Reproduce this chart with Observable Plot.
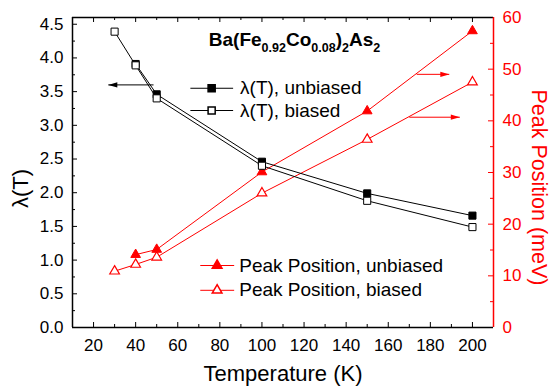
<!DOCTYPE html>
<html><head><meta charset="utf-8">
<script src="https://cdn.jsdelivr.net/npm/d3@7"></script>
<script src="https://cdn.jsdelivr.net/npm/@observablehq/plot@0.6"></script>
<style>body{margin:0;background:#fff} svg{font-family:"Liberation Sans",Arial,sans-serif}</style>
</head><body><div id="chart"></div>
<script>
// ---- data ----
const temperature    = [30, 40, 50, 100, 150, 200];
const lambdaUnbiased = [null, 3.91, 3.46, 2.46, 1.99, 1.66];
const lambdaBiased   = [4.39, 3.89, 3.40, 2.40, 1.88, 1.49];
const peakUnbiased   = [null, 14.1, 15.1, 30.1, 41.9, 57.4];
const peakBiased     = [10.9, 12.2, 13.6, 26.0, 36.4, 47.5];

const xTicks      = [20, 40, 60, 80, 100, 120, 140, 160, 180, 200];
const xMinorTicks = [30, 50, 70, 90, 110, 130, 150, 170, 190];
const lambdaTicks = [0, 0.5, 1, 1.5, 2, 2.5, 3, 3.5, 4, 4.5];
const lambdaMinor = [0.25, 0.75, 1.25, 1.75, 2.25, 2.75, 3.25, 3.75, 4.25];
const peakTicks   = [0, 10, 20, 30, 40, 50, 60];
const peakMinor   = [5, 15, 25, 35, 45, 55];

const lambdaLegend = ["λ(T), unbiased", "λ(T), biased"];
const peakLegend   = ["Peak Position, unbiased", "Peak Position, biased"];

// ---- layout ----
const W = 551, H = 390, mL = 72, mR = 58, mT = 17, mB = 63;
const innerW = W - mL - mR, innerH = H - mT - mB;
const lambdaMax = 4.6, peakMax = 60, k = peakMax / lambdaMax;
const RED = "#ff0000";

const rows = temperature.map((t, i) => ({
  t,
  lu: lambdaUnbiased[i],
  lb: lambdaBiased[i],
  pu: peakUnbiased[i] == null ? null : peakUnbiased[i] / k,
  pb: peakBiased[i] == null ? null : peakBiased[i] / k
}));

// legend placement (data units)
const lamLeg = lambdaLegend.map((label, i) => ({label, y: [3.55, 3.22][i], filled: i === 0}));
const peakLeg = peakLegend.map((label, i) => ({label, y: [12.0, 7.2][i] / k, filled: i === 0}));
const arrows = [
  {x1: 48.5, y1: 3.6, x2: 27, y2: 3.6, color: "black"},
  {x1: 173.5, y1: 49.0 / k, x2: 189, y2: 49.0 / k, color: RED},
  {x1: 170, y1: 40.7 / k, x2: 194, y2: 40.7 / k, color: RED}
];

const plot = Plot.plot({
  width: W, height: H,
  marginLeft: mL, marginRight: mR, marginTop: mT, marginBottom: mB,
  style: {fontFamily: '"Liberation Sans", Arial, sans-serif', fontSize: "17px", background: "white"},
  x: {domain: [10, 210], axis: null},
  y: {domain: [0, lambdaMax], axis: null},
  marks: [
    // ticks (inward)
    Plot.tickX(xTicks, {x: d => d, insetTop: innerH - 5, stroke: "black"}),
    Plot.tickX(xMinorTicks, {x: d => d, insetTop: innerH - 3, stroke: "black"}),
    Plot.tickX(xTicks, {x: d => d, insetBottom: innerH - 5, stroke: "black"}),
    Plot.tickX(xMinorTicks, {x: d => d, insetBottom: innerH - 3, stroke: "black"}),
    Plot.tickY(lambdaTicks, {y: d => d, insetRight: innerW - 5, stroke: "black"}),
    Plot.tickY(lambdaMinor, {y: d => d, insetRight: innerW - 3, stroke: "black"}),
    Plot.tickY(peakTicks.map(v => v / k), {y: d => d, insetLeft: innerW - 5, stroke: RED}),
    Plot.tickY(peakMinor.map(v => v / k), {y: d => d, insetLeft: innerW - 3, stroke: RED}),
    // frame
    Plot.ruleY([0], {stroke: "black", strokeWidth: 1.5}),
    Plot.ruleY([lambdaMax], {stroke: "black", strokeWidth: 1.5}),
    Plot.ruleX([10], {stroke: "black", strokeWidth: 1.5}),
    Plot.ruleX([210], {stroke: RED, strokeWidth: 1.5}),
    // axes labels
    Plot.axisX({ticks: xTicks, tickSize: 0, tickPadding: 11, fontSize: 17, label: null, color: "black"}),
    Plot.axisY({anchor: "left", ticks: lambdaTicks, tickSize: 0, tickPadding: 9, fontSize: 17, label: null, tickFormat: d => d.toFixed(1), color: "black"}),
    Plot.axisY({anchor: "right", ticks: peakTicks.map(v => v / k), tickSize: 0, tickPadding: 9, fontSize: 17, label: null, tickFormat: d => String(Math.round(d * k)), color: RED}),
    Plot.text(["Temperature (K)"], {text: d => d, frameAnchor: "bottom", textAnchor: "middle", lineAnchor: "middle", dy: 46, fontSize: 22, fill: "black"}),
    Plot.text(["λ(T)"], {text: d => d, frameAnchor: "left", textAnchor: "middle", lineAnchor: "middle", dx: -52, dy: 16, rotate: -90, fontSize: 22, fill: "black"}),
    Plot.text(["Peak Position (meV)"], {text: d => d, frameAnchor: "right", textAnchor: "middle", lineAnchor: "middle", dx: 45, dy: 15, rotate: 90, fontSize: 21.5, fill: RED}),
    // peak series (right axis)
    Plot.line(rows, {x: "t", y: "pu", stroke: RED, strokeWidth: 1}),
    Plot.line(rows, {x: "t", y: "pb", stroke: RED, strokeWidth: 1}),
    Plot.dot(rows, {x: "t", y: "pu", symbol: "triangle", r: 3.6, fill: RED, stroke: RED, strokeWidth: 1}),
    Plot.dot(rows, {x: "t", y: "pb", symbol: "triangle", r: 3.6, fill: "white", stroke: RED, strokeWidth: 1.2}),
    // lambda series (left axis)
    Plot.line(rows, {x: "t", y: "lu", stroke: "black", strokeWidth: 1}),
    Plot.line(rows, {x: "t", y: "lb", stroke: "black", strokeWidth: 1}),
    Plot.dot(rows, {x: "t", y: "lu", symbol: "square", r: 4, fill: "black", stroke: "black", strokeWidth: 1}),
    Plot.dot(rows, {x: "t", y: "lb", symbol: "square", r: 4, fill: "white", stroke: "black", strokeWidth: 1}),
    // arrows
    Plot.link(arrows, {x1: "x1", y1: "y1", x2: "x2", y2: "y2", stroke: "color", strokeWidth: 1, markerEnd: "arrow"}),
    // lambda legend
    Plot.link(lamLeg, {x1: 66, x2: 86.3, y1: "y", y2: "y", stroke: "black", strokeWidth: 1}),
    Plot.dot(lamLeg, {x: 76.1, y: "y", symbol: "square", r: 4, fill: d => d.filled ? "black" : "white", stroke: "black"}),
    Plot.text(lamLeg, {x: 89.6, y: "y", text: "label", textAnchor: "start", fontSize: 19, fill: "black"}),
    // peak legend
    Plot.link(peakLeg, {x1: 70.7, x2: 86.8, y1: "y", y2: "y", stroke: RED, strokeWidth: 1}),
    Plot.dot(peakLeg, {x: 78.7, y: "y", symbol: "triangle", r: 3.6, fill: d => d.filled ? RED : "white", stroke: RED}),
    Plot.text(peakLeg, {x: 89.2, y: "y", text: "label", textAnchor: "start", fontSize: 19, fill: "black"})
  ]
});

document.getElementById("chart").appendChild(plot);
const svg = d3.select(plot);

// filled arrowheads: restyle Plot's markers
svg.selectAll("marker").each(function () {
  const m = d3.select(this);
  const c = m.attr("stroke") || m.select("path").attr("stroke") || "black";
  m.attr("viewBox", "-10 -5 10 10").attr("refX", 0).attr("refY", 0)
   .attr("markerWidth", 10).attr("markerHeight", 10)
   .attr("markerUnits", "userSpaceOnUse").attr("orient", "auto")
   .attr("fill", c).attr("stroke", "none");
  m.selectAll("path").attr("d", "M0,0L-9,-2.6L-9,2.6Z").attr("fill", c).attr("stroke", "none");
});

// title with subscripts
const xs = plot.scale("x"), ys = plot.scale("y");
const title = svg.append("text")
  .attr("x", xs.apply(75)).attr("y", ys.apply(4.17))
  .attr("text-anchor", "start")
  .attr("font-weight", "bold").attr("font-size", 19).attr("fill", "black");
const parts = [["Ba(Fe", 0], ["0.92", 1], ["Co", 0], ["0.08", 1], [")", 0], ["2", 1], ["As", 0], ["2", 1]];
let cur = 0;
parts.forEach(([s, sub]) => {
  const target = sub ? 6 : 0;
  title.append("tspan").attr("dy", target - cur).attr("font-size", sub ? 12.5 : 19).text(s);
  cur = target;
});
</script>
</body></html>
